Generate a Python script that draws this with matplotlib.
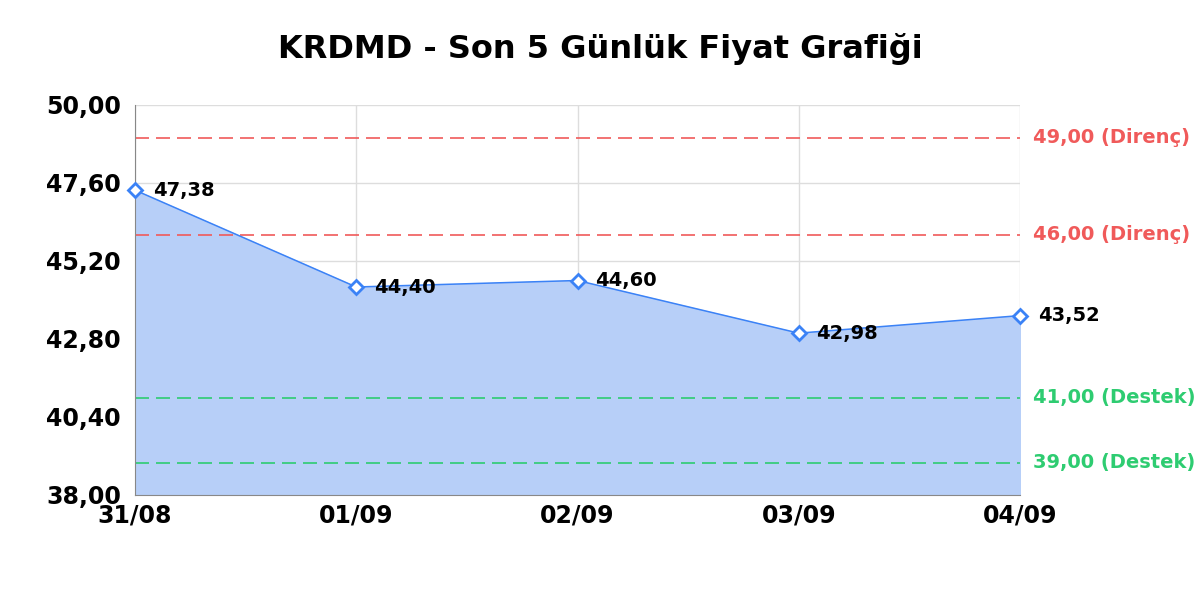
import numpy as np
import matplotlib.pyplot as plt
from matplotlib.ticker import FuncFormatter

dates = ["31/08", "01/09", "02/09", "03/09", "04/09"]
prices = [47.38, 44.40, 44.60, 42.98, 43.52]
resistance = [49.00, 46.00]
support = [41.00, 39.00]
yticks = [38.00, 40.40, 42.80, 45.20, 47.60, 50.00]


def tr(v):
    return ("%.2f" % v).replace(".", ",")


fig = plt.figure(figsize=(12, 6), dpi=100)
ax = fig.add_axes([0.1125, 0.175, 0.7375, 0.65])

x = np.arange(len(dates))
ax.fill_between(x, prices, 38, color="#b7cff8", zorder=1)
ax.plot(x, prices, color="#3b82f6", lw=1.1, zorder=3,
        marker="D", ms=7.5, mfc="white", mec="#3b82f6", mew=2, clip_on=False)

for xi, p in zip(x, prices):
    ax.text(xi + 0.08, p, tr(p), fontsize=14, fontweight="bold",
            va="center", ha="left", zorder=4)

for r in resistance:
    ax.axhline(r, color="#f05a5a", lw=1.2, ls=(0, (8.4, 4.2)), zorder=2)
    ax.text(1.015, r, tr(r) + " (Direnç)", transform=ax.get_yaxis_transform(),
            color="#f05a5a", fontsize=14, fontweight="bold", va="center")
for s in support:
    ax.axhline(s, color="#2ecc71", lw=1.2, ls=(0, (8.4, 4.2)), zorder=2)
    ax.text(1.015, s, tr(s) + " (Destek)", transform=ax.get_yaxis_transform(),
            color="#2ecc71", fontsize=14, fontweight="bold", va="center")

ax.set_xlim(0, len(dates) - 1)
ax.set_ylim(38, 50)
ax.set_xticks(x)
ax.set_xticklabels(dates)
ax.set_yticks(yticks)
ax.yaxis.set_major_formatter(FuncFormatter(lambda v, pos: tr(v)))
ax.tick_params(labelsize=17, length=0)
ax.tick_params(axis="y", pad=10)
ax.tick_params(axis="x", pad=6)
for lab in ax.get_xticklabels() + ax.get_yticklabels():
    lab.set_fontweight("bold")

ax.grid(True, color="#dddddd", lw=1, zorder=0)
ax.set_axisbelow(True)
for side in ["top", "right"]:
    ax.spines[side].set_visible(False)
for side in ["left", "bottom"]:
    ax.spines[side].set_color("#888888")

fig.suptitle("KRDMD - Son 5 Günlük Fiyat Grafiği", fontsize=23,
             fontweight="bold", y=0.945)

fig.savefig("out.png", dpi=100)
